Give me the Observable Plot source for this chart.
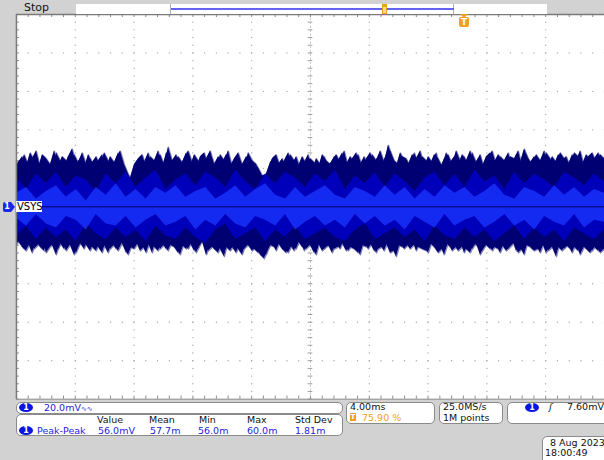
<!DOCTYPE html>
<html><head><meta charset="utf-8">
<script src="https://cdn.jsdelivr.net/npm/d3@7"></script>
<script src="https://cdn.jsdelivr.net/npm/@observablehq/plot@0.6"></script>
<style>
html,body{margin:0;padding:0}
body{width:604px;height:460px;overflow:hidden;position:relative;background:#d2d2d2;font-family:"DejaVu Sans",sans-serif;}
.abs{position:absolute;white-space:nowrap;line-height:1}
.box{position:absolute;background:#fff;border:1px solid #8a8a8a;border-radius:5px;box-sizing:border-box}
.t{position:absolute;white-space:nowrap;font-size:9.5px;line-height:1;transform:translateY(-50%);color:#111}
.blue{color:#1c1ce0 !important}
.oval{position:absolute;width:14px;height:9px;border-radius:50%;background:#0a14e0;color:#fff;font-size:8px;font-weight:bold;text-align:center;line-height:9px}
</style></head>
<body>
<div id="chart" class="abs" style="left:0;top:0"></div>
<script>
// ---- data (division units on x: 0..10, 4.00 ms/div; mV on y: 20 mV/div, 10 div) ----
const xMajor = [1, 2, 3, 4, 6, 7, 8, 9];
const yMajor = [-80, -60, -40, -20, 20, 40, 60, 80];
const xCenter = 5;
const yCenter = 0;
// upper envelope of the noise trace (mV), first pass of peaks
const waveTop = [24,20,27,22,25,29,21,26,23,19,28,24,21,26,30,22,25,20,27,23,
  26,21,28,24,19,25,29,22,17,12,20,26,23,28,21,25,27,22,31,24,
  27,21,25,29,23,20,26,28,22,25,19,27,24,29,21,26,23,20,28,24,
  22,18,14,19,25,27,21,24,28,22,26,20,23,27,19,25,22,26,21,24,
  27,23,29,21,25,28,22,26,20,27,24,29,23,32,26,21,28,24,22,27,
  25,29,21,26,23,28,20,25,27,22,29,24,26,21,28,23,27,20,25,29,
  22,26,24,28,21,27,23,30,25,22,27,24,29,21,26,23,28,25,22,27,
  24,29,21,26,28,23,27,25];
// lower envelope (mV), first pass
const waveBot = [-20,-17,-22,-19,-24,-18,-21,-23,-17,-20,-25,-19,-22,-18,-21,-24,-19,-22,-17,-21,
  -23,-18,-20,-24,-19,-22,-17,-21,-25,-20,-18,-23,-21,-19,-24,-17,-22,-20,-23,-18,
  -21,-25,-19,-22,-18,-24,-20,-17,-23,-21,-19,-22,-26,-18,-21,-24,-19,-22,-20,-23,
  -21,-25,-27,-22,-19,-23,-18,-21,-24,-20,-22,-17,-23,-19,-21,-25,-18,-22,-20,-24,
  -19,-22,-17,-23,-20,-21,-25,-18,-22,-19,-24,-20,-23,-18,-21,-26,-19,-22,-20,-17,
  -23,-19,-21,-24,-18,-22,-20,-25,-19,-23,-21,-18,-24,-20,-22,-19,-25,-21,-18,-23,
  -20,-24,-19,-22,-17,-23,-21,-25,-18,-22,-20,-24,-19,-23,-21,-26,-18,-22,-20,-24,
  -19,-25,-21,-18,-23,-20,-24,-22];
// second pass of peaks, between the first ones (mV)
const waveTop2 = [23,26,21,28,24,20,27,25,22,29,21,26,24,19,27,23,28,22,25,21,
  24,27,20,26,23,28,21,18,15,22,25,27,21,26,24,29,20,28,25,22,
  26,23,28,21,27,24,20,25,29,22,26,23,27,21,25,28,22,26,24,21,
  20,16,17,23,26,22,25,20,27,24,21,26,22,25,23,20,27,24,22,26,
  24,28,22,26,23,27,21,25,28,23,26,22,27,29,24,22,26,25,21,28,
  23,26,24,22,27,25,21,28,23,26,22,27,24,29,22,25,21,26,28,23,
  27,24,22,26,25,29,21,27,23,26,24,20,28,25,22,27,24,26,21,28,
  26,22,27,24,25,28,23];
const waveBot2 = [-18,-21,-23,-19,-22,-20,-17,-24,-21,-19,-22,-18,-23,-20,-25,-21,-18,-20,-23,-19,
  -21,-24,-18,-22,-20,-23,-19,-24,-21,-22,-19,-20,-24,-18,-21,-23,-19,-22,-20,-21,
  -24,-20,-22,-19,-23,-21,-18,-25,-20,-22,-24,-19,-21,-23,-20,-22,-25,-19,-21,-22,
  -24,-23,-25,-20,-21,-19,-22,-24,-20,-23,-18,-21,-22,-20,-24,-19,-23,-21,-20,-22,
  -21,-19,-23,-21,-22,-24,-20,-21,-19,-23,-22,-21,-19,-24,-23,-20,-21,-19,-22,-20,
  -21,-22,-23,-19,-21,-24,-22,-19,-21,-20,-23,-21,-22,-24,-19,-21,-23,-20,-22,-21,
  -22,-20,-23,-21,-19,-24,-22,-20,-21,-23,-22,-19,-24,-20,-22,-21,-23,-20,-22,-21,
  -23,-20,-22,-24,-21,-23,-20];
// medium-intensity band (mV)
const midTop = [15,9,17,12,18,10,16,14,8,17,12,18,10,15,19,9,14,17,11,18,15,10,19,13,9,17,12,18,15,10,
  17,13,19,9,16,12,18,10,17,13,8,15,18,11,17,10,19,13,16,9,18,12,17,14,10,18,15,11,17,13];
const midBot = [-15,-10,-17,-11,-16,-12,-18,-9,-14,-17,-11,-16,-12,-18,-10,-15,-17,-11,-16,-19,-12,-9,-17,-14,-11,-18,-12,-16,-10,-17,
  -14,-11,-16,-18,-12,-9,-17,-14,-11,-16,-12,-18,-10,-15,-17,-11,-16,-12,-18,-14,-10,-17,-11,-16,-12,-18,-11,-14,-17,-12];
// high-intensity core (mV)
const coreTop = [7,10,4,8,11,5,9,3,10,6,12,5,9,4,10,7,11,5,8,10,4,7,11,5,9,12,6,4,10,5,
  8,11,6,4,10,8,5,11,6,10,4,9,5,11,7,10,5,8,12,6,4,10,8,5,11,6,10,5,9,7];
const coreBot = [-6,-10,-4,-9,-11,-5,-7,-12,-4,-9,-10,-5,-11,-7,-4,-10,-8,-5,-12,-7,-10,-4,-9,-11,-5,-7,-10,-4,-12,-8,
  -5,-10,-7,-11,-4,-9,-5,-10,-7,-12,-5,-8,-11,-4,-10,-7,-5,-11,-8,-4,-10,-7,-12,-5,-8,-10,-4,-11,-7,-8];

// ---- build tables ----
const wave = waveTop.map((v, i) => ({t: i * 10 / (waveTop.length - 1), hi: v, lo: waveBot[i]}));
const wave2 = waveTop2.map((v, i) => ({t: (i + 0.5) * 10 / (waveTop.length - 1), hi: v, lo: waveBot2[i]}));
const mid = midTop.map((v, i) => ({t: i * 10 / (midTop.length - 1), hi: v, lo: midBot[i]}));
const core = coreTop.map((v, i) => ({t: i * 10 / (coreTop.length - 1), hi: v, lo: coreBot[i]}));
const minorX = d3.range(0, 10.001, 0.2);
const minorY = d3.range(-100, 100.001, 4);
const hDots = yMajor.flatMap(y => minorX.map(x => ({x, y})));
const vDots = xMajor.flatMap(x => minorY.map(y => ({x, y})));

const tip = "#8080b8";
const chart = Plot.plot({
  width: 606, height: 460,
  marginLeft: 16, marginTop: 14, marginRight: 0, marginBottom: 60,
  x: {domain: [0, 10], axis: null},
  y: {domain: [-100, 100], axis: null},
  style: {background: "transparent", overflow: "visible"},
  marks: [
    Plot.frame({fill: "white", stroke: null}),
    Plot.dot(hDots, {x: "x", y: "y", r: 0.7, fill: "#a8a8a8", stroke: null}),
    Plot.dot(vDots, {x: "x", y: "y", r: 0.7, fill: "#a8a8a8", stroke: null}),
    Plot.ruleX([xCenter], {stroke: "#c4c4c4", strokeWidth: 1, strokeDasharray: "2,2"}),
    Plot.ruleY(minorY, {x1: xCenter - 0.04, x2: xCenter + 0.04, stroke: "#a0a0a0"}),
    Plot.ruleX(minorX, {y1: yCenter - 1.3, y2: yCenter + 1.3, stroke: "#a0a0a0"}),
    Plot.ruleX(minorX, {y1: 100, y2: 98.4, stroke: "#8c8c8c"}),
    Plot.ruleX(minorX, {y1: -100, y2: -98.4, stroke: "#8c8c8c"}),
    Plot.ruleY(minorY, {x1: 0, x2: 0.05, stroke: "#8c8c8c"}),
    // waveform: light tips first, then dark body on top
    Plot.lineY(wave, {x: "t", y: "hi", stroke: tip, strokeWidth: 1.2}),
    Plot.lineY(wave, {x: "t", y: "lo", stroke: tip, strokeWidth: 1.2}),
    Plot.lineY(wave2, {x: "t", y: "hi", stroke: tip, strokeWidth: 1.2}),
    Plot.lineY(wave2, {x: "t", y: "lo", stroke: tip, strokeWidth: 1.2}),
    Plot.areaY(wave, {x: "t", y1: "lo", y2: "hi", fill: "#000072"}),
    Plot.areaY(wave2, {x: "t", y1: "lo", y2: "hi", fill: "#000072"}),
    Plot.areaY(mid, {x: "t", y1: "lo", y2: "hi", fill: "#0000d8", fillOpacity: 0.7}),
    Plot.areaY(core, {x: "t", y1: "lo", y2: "hi", fill: "#1a34ff", fillOpacity: 0.8}),
    Plot.ruleY([yCenter], {stroke: "#000066", strokeWidth: 1}),
    // borders
    Plot.ruleY([100], {stroke: "#7a7a7a", strokeWidth: 1.5}),
    Plot.ruleY([-100], {stroke: "#8a8a8a", strokeWidth: 1}),
    Plot.ruleX([0], {stroke: "#7a7a7a", strokeWidth: 1.5})
  ]
});
document.getElementById("chart").append(chart);
</script>

<!-- top status bar -->
<div class="abs" style="left:24px;top:2px;font-size:11px;color:#111">Stop</div>
<div class="abs" style="left:76px;top:4px;width:471px;height:10px;background:#fff"></div>
<div class="abs" style="left:170px;top:4px;width:284px;height:10px;border-left:1px solid #b0b0b0;border-right:1px solid #b0b0b0;box-sizing:border-box"></div>
<div class="abs" style="left:171px;top:8px;width:283px;height:1.5px;background:#6464f0"></div>
<div class="abs" style="left:382px;top:4px;width:5px;height:10px;background:#f0a020"></div>
<div class="abs" style="left:383px;top:7px;width:3px;height:6px;background:#ffd890"></div>
<!-- trigger position marker -->
<div class="abs" style="left:460px;top:14px;width:0;height:0;border-left:4px solid transparent;border-right:4px solid transparent;border-top:4px solid #f0a020"></div>
<div class="abs" style="left:459px;top:17px;width:10px;height:10px;background:#f0a020;border-radius:2px;color:#fff;font-size:9px;font-weight:bold;text-align:center;line-height:10px">T</div>

<!-- channel marker -->
<div class="abs" style="left:3px;top:202px;width:8px;height:10px;background:#1c28e8;border-radius:2px 0 0 2px;color:#fff;font-size:8px;font-weight:bold;text-align:center;line-height:10px">1</div>
<div class="abs" style="left:11px;top:202px;width:0;height:0;border-top:5px solid transparent;border-bottom:5px solid transparent;border-left:4px solid #1c28e8"></div>
<div class="abs" style="left:16px;top:201px;width:25px;height:11px;background:#fff;color:#000;font-size:10px;line-height:11px;padding-left:1px">VSYS</div>

<!-- bottom panels -->
<div class="box" style="left:16px;top:402px;width:327px;height:12px"></div>
<div class="oval" style="left:19px;top:402.5px">1</div>
<div class="t blue" style="left:44px;top:407.5px">20.0mV<span style="font-size:7px">∿∿</span></div>

<div class="box" style="left:16px;top:414px;width:327px;height:22px"></div>
<div class="t" style="left:97px;top:420px">Value</div>
<div class="t" style="left:149px;top:420px">Mean</div>
<div class="t" style="left:199px;top:420px">Min</div>
<div class="t" style="left:247px;top:420px">Max</div>
<div class="t" style="left:295px;top:420px">Std Dev</div>
<div class="oval" style="left:19px;top:426px">1</div>
<div class="t blue" style="left:37px;top:431px">Peak-Peak</div>
<div class="t blue" style="left:98px;top:431px">56.0mV</div>
<div class="t blue" style="left:150px;top:431px">57.7m</div>
<div class="t blue" style="left:198px;top:431px">56.0m</div>
<div class="t blue" style="left:247px;top:431px">60.0m</div>
<div class="t blue" style="left:295px;top:431px">1.81m</div>

<div class="box" style="left:346px;top:402px;width:89px;height:22px"></div>
<div class="t" style="left:350px;top:407px">4.00ms</div>
<div class="abs" style="left:350px;top:413px;width:6px;height:8px;background:#f0a020;color:#fff;font-size:7px;font-weight:bold;text-align:center;line-height:8px">T</div>
<div class="t" style="left:362px;top:417.5px;color:#f0a020">75.90 %</div>

<div class="box" style="left:439px;top:402px;width:64px;height:22px"></div>
<div class="t" style="left:443px;top:407px">25.0MS/s</div>
<div class="t" style="left:443px;top:417.5px">1M points</div>

<div class="box" style="left:507px;top:402px;width:110px;height:22px"></div>
<div class="oval" style="left:525px;top:402.5px">1</div>
<div class="t" style="left:549px;top:407px;font-style:italic">ʃ</div>
<div class="t" style="left:567px;top:407px">7.60mV</div>

<div class="box" style="left:542px;top:436px;width:80px;height:30px"></div>
<div class="t" style="left:550px;top:443px">8 Aug 2023</div>
<div class="t" style="left:545px;top:452.5px">18:00:49</div>
</body></html>
